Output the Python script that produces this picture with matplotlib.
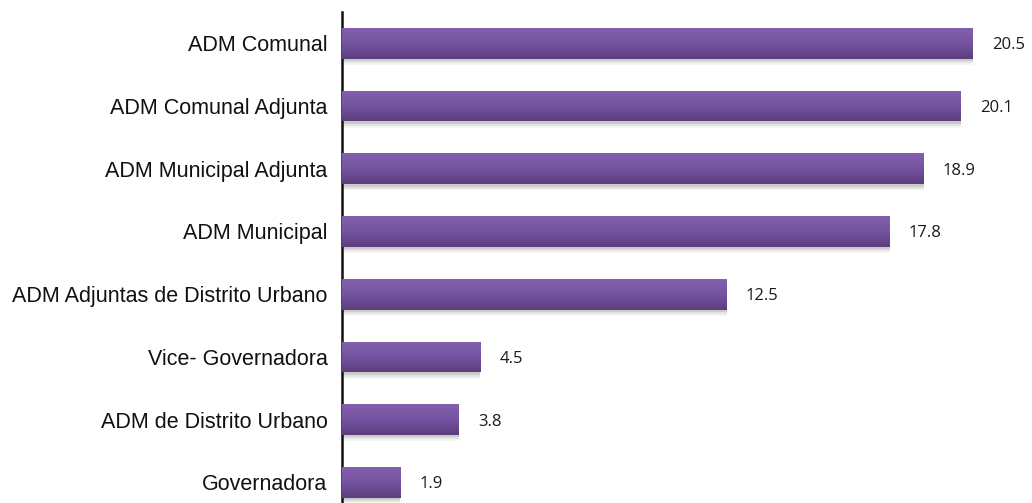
import matplotlib.pyplot as plt
import numpy as np
from matplotlib.colors import LinearSegmentedColormap

# Data
categories = ['ADM Comunal', 'ADM Comunal Adjunta', 'ADM Municipal Adjunta',
              'ADM Municipal', 'ADM Adjuntas de Distrito Urbano',
              'Vice- Governadora', 'ADM de Distrito Urbano', 'Governadora']
values = [20.5, 20.1, 18.9, 17.8, 12.5, 4.5, 3.8, 1.9]

fig = plt.figure(figsize=(10.32, 5.03), dpi=100)
ax = fig.add_axes([342 / 1032, 0, 1 - 342 / 1032, 1 - 12 / 503])

ypos = np.arange(len(categories))
bar_h = 0.49

# soft shadow behind bars
for off, a in [(0.04, 0.10), (0.07, 0.07), (0.10, 0.04)]:
    ax.barh(ypos + off, values, height=bar_h, color='#000000', alpha=a, zorder=1)
bars = ax.barh(ypos, values, height=bar_h, color='#7352a0', zorder=2)

# vertical gradient fill for each bar
cmap = LinearSegmentedColormap.from_list('purp', ['#8360ad', '#7453a0', '#5c3e7d'])
grad = np.linspace(0, 1, 64).reshape(-1, 1)
for b in bars:
    x0, y0 = b.get_x(), b.get_y()
    w, h = b.get_width(), b.get_height()
    im = ax.imshow(grad, cmap=cmap, aspect='auto', zorder=3,
                   extent=(x0, x0 + w, y0 + h, y0), origin='upper')
    im.set_clip_path(b)

for y, v in zip(ypos, values):
    ax.text(v + 0.62, y, f'{v}', va='center_baseline', ha='left', fontsize=12,
            family='Open Sans', color='#1a1a1a')

ax.set_yticks(ypos)
ax.set_yticklabels(categories, fontsize=15.5, family='Liberation Sans', color='#111111')
ax.tick_params(axis='y', length=0, pad=10.5)
ax.set_xticks([])
ax.set_xlim(0, 22.42)
ax.set_ylim(7.33, -0.50)

for s in ['top', 'right', 'bottom']:
    ax.spines[s].set_visible(False)
ax.spines['left'].set_linewidth(1.8)
ax.spines['left'].set_color('#111111')

fig.savefig('out.png', dpi=100, facecolor='white')
